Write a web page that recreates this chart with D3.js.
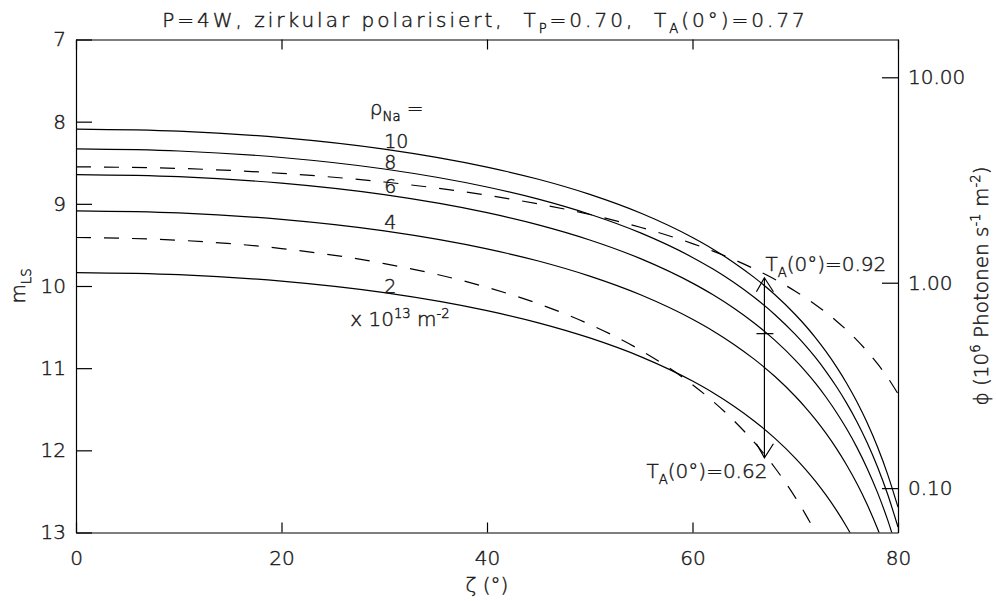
<!DOCTYPE html>
<html>
<head>
<meta charset="utf-8">
<script src="https://cdn.jsdelivr.net/npm/d3@7"></script>
<style>
  html, body { margin: 0; padding: 0; background: #fff; }
  svg text { font-family: "DejaVu Sans", sans-serif; font-weight: 200; fill: #1a1a1a; stroke: #1a1a1a; stroke-width: 0.45; white-space: pre; }
  .axis path, .axis line { stroke: #000; stroke-width: 1.2; }
</style>
</head>
<body>
<svg id="chart" width="996" height="601"></svg>
<script>
// Zenith angle grid (degrees)
const zenith = [0, 10, 20, 30, 40, 45, 50, 55, 60, 62, 64, 66, 68, 70, 71, 72, 73, 74, 75, 76, 77, 78, 79, 80];

// Sodium column densities (x 10^13 m^-2) of the solid curves
const rhoNa = [10, 8, 6, 4, 2];

// Laser guide star magnitude m_LS for T_A(0°)=0.77, one array per column density
const magRho10 = [8.090, 8.115, 8.194, 8.334, 8.553, 8.701, 8.885, 9.115, 9.410, 9.552, 9.713, 9.895, 10.104, 10.347, 10.484, 10.634, 10.799, 10.981, 11.183, 11.409, 11.665, 11.957, 12.295, 12.692];
const magRho8  = [8.332, 8.357, 8.436, 8.576, 8.795, 8.943, 9.127, 9.357, 9.652, 9.794, 9.955, 10.137, 10.346, 10.589, 10.726, 10.876, 11.041, 11.223, 11.425, 11.651, 11.907, 12.199, 12.537, 12.934];
const magRho6  = [8.645, 8.670, 8.749, 8.889, 9.108, 9.256, 9.440, 9.670, 9.965, 10.107, 10.268, 10.450, 10.659, 10.902, 11.039, 11.189, 11.354, 11.536, 11.738, 11.964, 12.220, 12.512, 12.850, 13.247];
const magRho4  = [9.085, 9.110, 9.189, 9.329, 9.548, 9.696, 9.880, 10.110, 10.405, 10.547, 10.708, 10.890, 11.099, 11.342, 11.479, 11.629, 11.794, 11.976, 12.178, 12.404, 12.660, 12.952, 13.290, 13.687];
const magRho2  = [9.837, 9.862, 9.941, 10.081, 10.300, 10.448, 10.632, 10.862, 11.157, 11.299, 11.460, 11.642, 11.851, 12.094, 12.231, 12.381, 12.546, 12.728, 12.930, 13.156, 13.412];

// Dashed curves: other atmospheric transmissions
const magT092 = [8.550, 8.569, 8.629, 8.734, 8.895, 9.001, 9.130, 9.288, 9.484, 9.576, 9.677, 9.791, 9.918, 10.063, 10.143, 10.230, 10.323, 10.425, 10.536, 10.658, 10.794, 10.945, 11.116, 11.312];
const magT062 = [9.410, 9.443, 9.544, 9.727, 10.016, 10.216, 10.467, 10.785, 11.201, 11.404, 11.635, 11.901, 12.209, 12.572, 12.779, 13.006, 13.258];

// Axis ticks
const zenithTicks = [0, 20, 40, 60, 80];
const magTicks = [7, 8, 9, 10, 11, 12, 13];
const fluxTicks = [10, 1, 0.1];
const fluxUnitMag = 9.96;          // magnitude where photon flux = 1.00 (10^6 s^-1 m^-2)

// Range bar between the two transmission cases
const arrowZenith = 67;
const arrowMags = [9.90, 10.58, 12.09];   // top, marker, bottom

const svg = d3.select("#chart");
const L = 76, R = 898, T = 39.5, B = 532.5;

const x = d3.scaleLinear().domain([0, 80]).range([L, R]);
const y = d3.scaleLinear().domain([7, 13]).range([T, B]);
const fluxAt = m => Math.pow(10, -0.4 * (m - fluxUnitMag));
const yFlux = d3.scaleLog().domain([fluxAt(7), fluxAt(13)]).range([T, B]);

// text with sub/superscripts
function rich(sel, parts, size) {
  let shift = 0;
  parts.forEach(([s, k]) => {
    const target = k === "sub" ? size * 0.32 : k === "sup" ? -size * 0.42 : 0;
    sel.append("tspan")
      .attr("dy", target - shift)
      .attr("font-size", k === "n" ? size : size * 0.66)
      .text(s);
    shift = target;
  });
  return sel;
}

// ---- curves ----
svg.append("clipPath").attr("id", "plotClip")
  .append("rect").attr("x", L).attr("y", T).attr("width", R - L).attr("height", B - T);

const plot = svg.append("g").attr("clip-path", "url(#plotClip)");
const line = d3.line()
  .x((d, i) => x(zenith[i]))
  .y(d => y(d))
  .curve(d3.curveMonotoneX);

[magRho10, magRho8, magRho6, magRho4, magRho2].forEach(arr => {
  plot.append("path").datum(arr)
    .attr("d", line).attr("fill", "none")
    .attr("stroke", "#000").attr("stroke-width", 1.2);
});
[magT092, magT062].forEach(arr => {
  plot.append("path").datum(arr)
    .attr("d", line).attr("fill", "none")
    .attr("stroke", "#000").attr("stroke-width", 1.2)
    .attr("stroke-dasharray", "15,13");
});

// ---- axes ----
const gx = svg.append("g").attr("class", "axis").attr("transform", `translate(0,${B})`);
gx.call(d3.axisBottom(x).tickValues(d3.range(0, 81, 5)).tickSize(-5).tickSizeOuter(0).tickFormat(""));
gx.call(d3.axisBottom(x).tickValues(zenithTicks).tickSize(-10).tickSizeOuter(0).tickPadding(18).tickFormat(d3.format("d")));

const gxt = svg.append("g").attr("class", "axis").attr("transform", `translate(0,${T})`);
gxt.call(d3.axisTop(x).tickValues(d3.range(0, 81, 5)).tickSize(-5).tickSizeOuter(0).tickFormat(""));
gxt.call(d3.axisTop(x).tickValues(zenithTicks).tickSize(-10).tickSizeOuter(0).tickFormat(""));

const gy = svg.append("g").attr("class", "axis").attr("transform", `translate(${L},0)`);
gy.call(d3.axisLeft(y).tickValues(d3.range(70, 131, 1).map(v => v / 10)).tickSize(-8).tickSizeOuter(0).tickFormat(""));
gy.call(d3.axisLeft(y).tickValues(magTicks).tickSize(-16).tickSizeOuter(0).tickPadding(10).tickFormat(d3.format("d")));

const gr = svg.append("g").attr("class", "axis").attr("transform", `translate(${R},0)`);
gr.call(d3.axisRight(yFlux).tickValues(fluxTicks).tickSize(-16).tickSizeOuter(0).tickPadding(10).tickFormat(d3.format(".2f")));

svg.selectAll(".axis text").attr("font-family", "DejaVu Sans").attr("font-size", 20)
  .attr("fill", "#1a1a1a").attr("stroke", "#1a1a1a").attr("stroke-width", 0.45);

// ---- titles ----
rich(svg.append("text").attr("x", 485).attr("y", 26.5).attr("text-anchor", "middle").attr("letter-spacing", 3),
  [["P=4W, zirkular polarisiert,  T", "n"], ["P", "sub"], ["=0.70,  T", "n"], ["A", "sub"], ["(0°)=0.77", "n"]], 20);

svg.append("text").attr("x", 487).attr("y", 592).attr("text-anchor", "middle")
  .attr("font-size", 20).text("ζ (°)");

rich(svg.append("text").attr("transform", "translate(25,286) rotate(-90)").attr("text-anchor", "middle"),
  [["m", "n"], ["LS", "sub"]], 20);

rich(svg.append("text").attr("transform", "translate(988,286) rotate(-90)").attr("text-anchor", "middle"),
  [["ϕ (10", "n"], ["6", "sup"], [" Photonen s", "n"], ["-1", "sup"], [" m", "n"], ["-2", "sup"], [")", "n"]], 20);

// ---- curve labels ----
rich(svg.append("text").attr("x", x(28.6)).attr("y", 115),
  [["ρ", "n"], ["Na", "sub"], [" =", "n"]], 20);
const labelBase = [148, 169, 193, 229, 293];
rhoNa.forEach((r, i) => {
  svg.append("text").attr("x", x(30)).attr("y", labelBase[i]).attr("font-size", 19).text(r);
});
rich(svg.append("text").attr("x", x(26.7)).attr("y", 326),
  [["x 10", "n"], ["13", "sup"], [" m", "n"], ["-2", "sup"]], 20);

// ---- range bar at zeta = 67 ----
const ax = x(arrowZenith);
const aTop = y(arrowMags[0]), aMid = y(arrowMags[1]), aBot = y(arrowMags[2]);
const bar = svg.append("g").attr("stroke", "#000").attr("stroke-width", 1.2).attr("fill", "none");
bar.append("line").attr("x1", ax).attr("x2", ax).attr("y1", aTop).attr("y2", aBot);
bar.append("path").attr("d", `M${ax - 8},${aTop + 14}L${ax},${aTop}L${ax + 9},${aTop + 14}`);
bar.append("path").attr("d", `M${ax - 8},${aBot - 14}L${ax},${aBot}L${ax + 9},${aBot - 14}`);
bar.append("line").attr("x1", ax - 8).attr("x2", ax + 9).attr("y1", aMid).attr("y2", aMid);

rich(svg.append("text").attr("x", ax + 1).attr("y", 271),
  [["T", "n"], ["A", "sub"], ["(0°)=0.92", "n"]], 20);
rich(svg.append("text").attr("x", ax + 3).attr("y", 478).attr("text-anchor", "end"),
  [["T", "n"], ["A", "sub"], ["(0°)=0.62", "n"]], 20);
</script>
</body>
</html>
